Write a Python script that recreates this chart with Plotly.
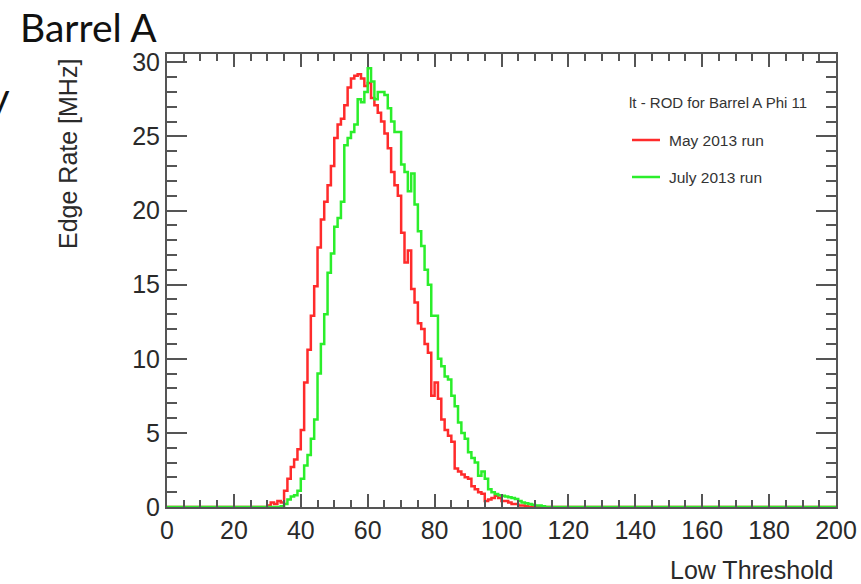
import numpy as np
import plotly.graph_objects as go

# ---------------- data ----------------
X_MIN, X_MAX, N_BINS = 0, 200, 200
Y_MAX = 30.56

may_start = 30
may_rate = [0.1, 0.3, 0.2, 0.4, 0.3, 1.1, 1.9, 2.7, 3.2, 3.9,
            5.2, 8.4, 10.6, 12.9, 14.9, 17.5, 19.4, 20.6, 21.7, 23.0,
            24.9, 25.8, 26.2, 27.1, 28.3, 28.9, 29.1, 29.2, 28.9, 28.4,
            28.6, 27.6, 27.1, 26.6, 26.0, 25.2, 24.2, 22.6, 21.7, 21.0,
            18.5, 16.5, 17.3, 14.7, 13.8, 12.4, 12.0, 11.0, 10.4, 7.5,
            8.4, 7.3, 5.9, 5.2, 4.8, 4.4, 2.6, 2.4, 2.2, 2.0,
            1.9, 1.4, 1.2, 1.0, 0.9, 0.4, 0.5, 0.6, 0.76, 0.6,
            0.4, 0.4, 0.3, 0.2, 0.2, 0.1, 0.1, 0.05]

july_start = 34
july_rate = [0.05, 0.2, 0.5, 0.7, 0.8, 1.1,
             1.9, 2.8, 3.5, 4.6, 5.9, 9.0, 11.0, 13.0, 15.8, 17.1,
             18.9, 19.5, 20.6, 24.4, 24.9, 25.3, 25.8, 27.5, 27.3, 28.0,
             29.6, 28.7, 27.5, 28.0, 28.0, 27.8, 26.9, 26.0, 25.3, 25.3,
             23.1, 22.6, 21.3, 22.5, 20.4, 18.6, 17.6, 16.0, 15.0, 12.9,
             12.9, 10.0, 9.5, 8.8, 8.6, 7.5, 6.8, 5.7, 5.0, 4.6,
             3.7, 3.3, 3.0, 2.1, 2.4, 1.9, 1.2, 1.0, 0.87, 0.8,
             0.76, 0.7, 0.65, 0.6, 0.54, 0.4, 0.3, 0.25, 0.2, 0.15,
             0.1, 0.1, 0.05]

legend_header = "lt - ROD for Barrel A Phi 11"
series_names = ["May 2013 run", "July 2013 run"]
series_colors = ["#ff2b2b", "#2bee2b"]
x_title = "Low Threshold"
y_title = "Edge Rate [MHz]"
slide_title = "Barrel A"


def full_hist(start, vals):
    h = np.zeros(N_BINS)
    h[start:start + len(vals)] = vals
    return h


edges = np.linspace(X_MIN, X_MAX, N_BINS + 1)
hists = [full_hist(may_start, may_rate), full_hist(july_start, july_rate)]

fig = go.Figure()
for h, name, col in zip(hists, series_names, series_colors):
    fig.add_trace(go.Scatter(
        x=edges, y=np.append(h, h[-1]), mode="lines", name=name,
        line=dict(color=col, width=2.5, shape="hv"),
        cliponaxis=False, showlegend=False, hoverinfo="skip"))

# ---------------- layout helpers ----------------
W, H = 861, 584
L, R, T, B = 167, 25, 54, 77
PW, PH = W - L - R, H - T - B


def px(x):
    return (x - L) / PW


def py(y):
    return (H - B - y) / PH


AX = "#555555"
TXT = "#2a2a2a"
FONT = "Liberation Sans, Arial, sans-serif"

axis_common = dict(showgrid=False, zeroline=False, showline=True,
                   linecolor=AX, linewidth=2, mirror="ticks",
                   ticks="inside", tickcolor=AX, tickwidth=1.5,
                   automargin=False,
                   tickfont=dict(family=FONT, size=25, color=TXT))

fig.update_xaxes(range=[X_MIN, X_MAX], tick0=0, dtick=20, ticklen=13,
                 minor=dict(dtick=5, ticks="inside", ticklen=7,
                            tickcolor=AX, tickwidth=1.5),
                 **axis_common)
fig.update_yaxes(range=[0, Y_MAX], tick0=0, dtick=5, ticklen=20,
                 minor=dict(dtick=1, ticks="inside", ticklen=10,
                            tickcolor=AX, tickwidth=1.5),
                 **axis_common)

ann = []
# slide title and cut-off glyph
ann.append(dict(text=slide_title, x=px(18), y=py(2), xanchor="left", yanchor="top",
                font=dict(family="Lato, sans-serif", size=39, color="#111111")))
ann.append(dict(text="y", x=px(12), y=py(71), xanchor="right", yanchor="top",
                font=dict(family="Lato, sans-serif", size=40, color="#111111")))
# axis titles
ann.append(dict(text=x_title, x=1, y=py(570), xanchor="right", yanchor="middle",
                font=dict(family=FONT, size=25, color=TXT)))
ann.append(dict(text=y_title, x=px(68), y=py(57), xanchor="center", yanchor="top",
                textangle=-90, font=dict(family=FONT, size=25, color=TXT)))
# legend
ann.append(dict(text=legend_header, x=px(627), y=py(102), xanchor="left", yanchor="middle",
                font=dict(family=FONT, size=15, color="#333333")))
shapes = []
for i, (name, col) in enumerate(zip(series_names, series_colors)):
    yy = 140 + i * 37
    ann.append(dict(text=name, x=px(667), y=py(yy), xanchor="left", yanchor="middle",
                    font=dict(family=FONT, size=15.5, color="#333333")))
    shapes.append(dict(type="line", xref="paper", yref="paper",
                       x0=px(632), x1=px(660), y0=py(yy), y1=py(yy),
                       line=dict(color=col, width=2.5)))

for a in ann:
    a.update(xref="paper", yref="paper", showarrow=False)

fig.update_layout(width=W, height=H, margin=dict(l=L, r=R, t=T, b=B),
                  plot_bgcolor="white", paper_bgcolor="white",
                  annotations=ann, shapes=shapes, showlegend=False)

fig.write_html("out.html", config={"displayModeBar": False},
               post_script="document.body.style.margin='0';"
                           "document.body.style.overflow='hidden';")
